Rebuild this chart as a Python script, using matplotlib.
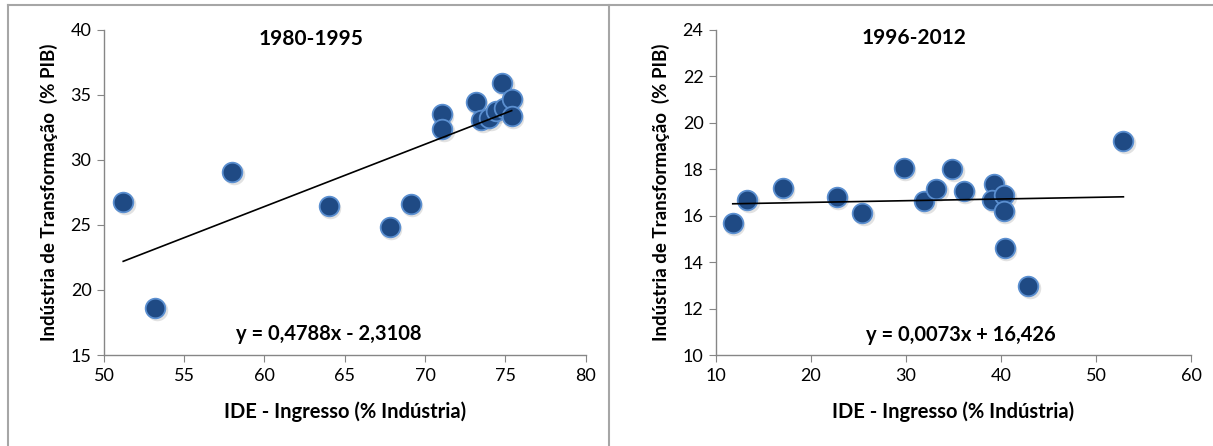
import numpy as np
import matplotlib
matplotlib.use('Agg')
from matplotlib import pyplot as plt
from matplotlib import transforms
from matplotlib.lines import Line2D

plt.rcParams['font.family'] = ['Lato', 'DejaVu Sans']
plt.rcParams['font.size'] = 12

# 1980-1995
x1 = [51.2, 53.2, 58.0, 64.0, 67.8, 69.1, 71.04, 71.08,
      73.15, 73.5, 74.0, 74.4, 74.8, 74.9, 75.4, 75.4]
y1 = [26.8, 18.65, 29.05, 26.45, 24.87, 26.58, 33.5, 32.38,
      34.42, 33.1, 33.25, 33.8, 35.9, 34.0, 34.67, 33.35]
slope1, icpt1 = 0.4788, -2.3108
eq1 = 'y = 0,4788x - 2,3108'

# 1996-2012
x2 = [11.76, 13.31, 17.0, 22.72, 25.38, 29.76, 31.93, 33.2, 34.88,
      36.06, 39.3, 39.09, 40.36, 40.28, 40.4, 42.86, 52.88]
y2 = [15.68, 16.69, 17.21, 16.81, 16.12, 18.06, 16.62, 17.14, 18.03,
      17.06, 17.38, 16.66, 16.91, 16.2, 14.62, 12.96, 19.22]
slope2, icpt2 = 0.0073, 16.426
eq2 = 'y = 0,0073x + 16,426'

xlabel = 'IDE - Ingresso (% Indústria)'
ylabel = 'Indústria de Transformação  (% PIB)'

fig = plt.figure(figsize=(12.13, 4.46), dpi=100)
ax1 = fig.add_axes([0.0857, 0.204, 0.397, 0.729])
ax2 = fig.add_axes([0.5903, 0.204, 0.3916, 0.729])

panels = [
    (ax1, x1, y1, slope1, icpt1, eq1, '1980-1995', (50, 80), np.arange(50, 81, 5),
     (15, 40), np.arange(15, 41, 5), (62.9, 39.3), (64.0, 16.6)),
    (ax2, x2, y2, slope2, icpt2, eq2, '1996-2012', (10, 60), np.arange(10, 61, 10),
     (10, 24), np.arange(10, 25, 2), (30.8, 23.65), (35.8, 10.85)),
]

for ax, xs, ys, m, b, eq, title, xlim, xt, ylim, yt, tpos, epos in panels:
    shadow = transforms.offset_copy(ax.transData, fig=fig, x=1.5, y=-2, units='dots')
    ax.scatter(xs, ys, s=240, color='#8c8c8c', alpha=0.25, linewidths=0,
               transform=shadow, zorder=2)
    ax.scatter(xs, ys, s=200, color='#1f4a84', edgecolors='#5b8fd0',
               linewidths=1.3, zorder=3)
    xx = np.array([min(xs), max(xs)])
    ax.plot(xx, m * xx + b, color='black', lw=1.2, zorder=4)

    ax.set_xlim(*xlim)
    ax.set_ylim(*ylim)
    ax.set_xticks(xt)
    ax.set_yticks(yt)
    for s in ['top', 'right']:
        ax.spines[s].set_visible(False)
    for s in ['left', 'bottom']:
        ax.spines[s].set_color('#868686')
        ax.spines[s].set_linewidth(1.0)
    ax.tick_params(direction='out', length=5, color='#868686', labelsize=13, pad=4)
    ax.set_xlabel(xlabel, fontsize=14.5, fontweight='bold', labelpad=13)
    ax.set_ylabel(ylabel, fontsize=13.5, fontweight='bold', labelpad=9)
    ax.text(tpos[0], tpos[1], title, fontsize=15, fontweight='bold',
            ha='center', va='center')
    ax.text(epos[0], epos[1], eq, fontsize=14.5, fontweight='bold',
            ha='center', va='center')

# chart frames
fc = '#a6a6a6'
fig.add_artist(Line2D([0.0066, 1.0], [0.9888, 0.9888], color=fc, lw=1.5))
fig.add_artist(Line2D([0.0066, 0.0066], [0.0, 0.9888], color=fc, lw=1.5))
fig.add_artist(Line2D([0.5018, 0.5018], [0.0, 0.9888], color=fc, lw=1.5))

plt.savefig('out.png', dpi=100)
